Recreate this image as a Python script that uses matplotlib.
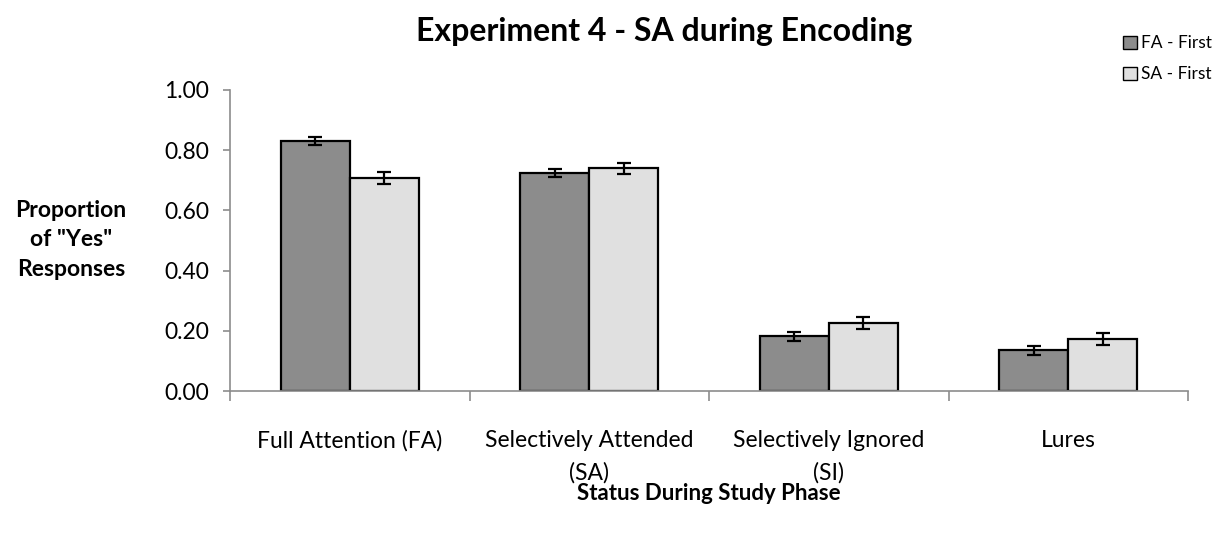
import numpy as np
import matplotlib.pyplot as plt
from matplotlib.patches import Patch

plt.rcParams["font.family"] = ["Lato", "DejaVu Sans"]

categories = ["Full Attention (FA)", "Selectively Attended\n(SA)",
              "Selectively Ignored\n(SI)", "Lures"]
fa_first = [0.830, 0.725, 0.182, 0.135]
fa_first_err = [0.014, 0.013, 0.015, 0.016]
sa_first = [0.708, 0.740, 0.227, 0.173]
sa_first_err = [0.020, 0.018, 0.020, 0.020]
series_names = ["FA - First", "SA - First"]

fig = plt.figure(figsize=(12.24, 5.35), dpi=100)
ax = fig.add_axes([0.188, 0.269, 0.7826, 0.563])

x = np.arange(len(categories))
w = 0.288
ax.bar(x - w / 2, fa_first, w, color="#8c8c8c", edgecolor="black", linewidth=1.6,
       yerr=fa_first_err, capsize=5, error_kw=dict(elinewidth=1.6, capthick=1.6))
ax.bar(x + w / 2, sa_first, w, color="#e0e0e0", edgecolor="black", linewidth=1.6,
       yerr=sa_first_err, capsize=5, error_kw=dict(elinewidth=1.6, capthick=1.6))

ax.set_xlim(-0.5, len(categories) - 0.5)
ax.set_ylim(0, 1.0)
ax.set_yticks(np.arange(0, 1.01, 0.2))
ax.set_yticklabels([f"{v:.2f}" for v in np.arange(0, 1.01, 0.2)], fontsize=16.5)
ax.set_xticks(x)
ax.set_xticklabels(categories, fontsize=16.5, va="top", linespacing=1.65)
ax.tick_params(axis="x", length=0, pad=28)
ax.set_xticks(np.arange(-0.5, len(categories)), minor=True)
ax.tick_params(axis="x", which="minor", length=7, color="#8c8c8c", width=1.2)
ax.tick_params(axis="y", length=5, color="#8c8c8c", width=1.2, pad=10)

for s in ["top", "right"]:
    ax.spines[s].set_visible(False)
for s in ["left", "bottom"]:
    ax.spines[s].set_color("#8c8c8c")
    ax.spines[s].set_linewidth(1.2)

fig.text(0.543, 0.942, "Experiment 4 - SA during Encoding", fontsize=23,
         fontweight="bold", ha="center", va="center")
fig.text(0.058, 0.552, 'Proportion\nof "Yes"\nResponses', fontsize=16.5,
         fontweight="bold", ha="center", va="center", linespacing=1.5)
fig.text(0.5795, 0.078, "Status During Study Phase", fontsize=16,
         fontweight="bold", ha="center", va="center")

handles = [Patch(facecolor="#8c8c8c", edgecolor="black"),
           Patch(facecolor="#e0e0e0", edgecolor="black")]
fig.legend(handles, series_names, loc="upper right", bbox_to_anchor=(1.003, 0.963),
           frameon=False, fontsize=12.5, handlelength=0.8, handleheight=0.8,
           handletextpad=0.25, labelspacing=0.85)

fig.savefig("out.png", dpi=100)
